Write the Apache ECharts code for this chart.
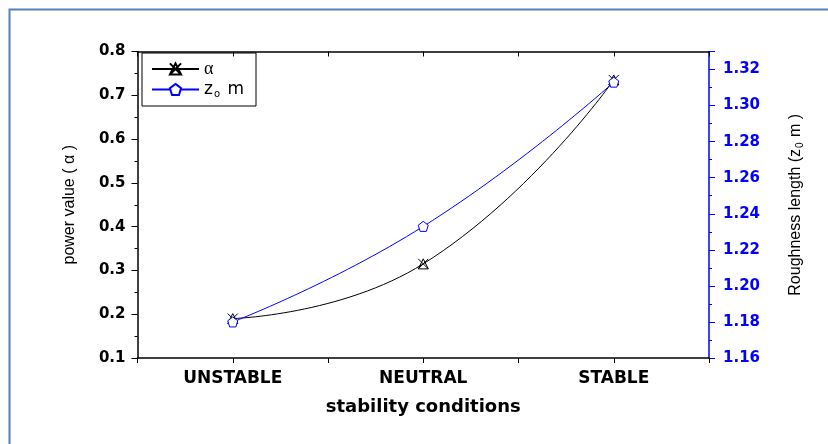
<!DOCTYPE html>
<html>
<head>
<meta charset="utf-8">
<script src="https://cdn.jsdelivr.net/npm/echarts@6/dist/echarts.min.js"></script>
<style>
  html, body { margin: 0; padding: 0; background: #fff; }
  #chart { width: 828px; height: 444px; }
</style>
</head>
<body>
<div id="chart"></div>
<script>
// Stability classes along the x axis
const categories = ['UNSTABLE', 'NEUTRAL', 'STABLE'];
// Power-law exponent (left axis)
const alphaValues = [0.19, 0.315, 0.735];
// Roughness length z0 in metres (right axis)
const z0Values = [1.18, 1.233, 1.313];
// Axis tick settings
const leftTicks = { min: 0.1, max: 0.8, interval: 0.1 };
const rightTicks = { min: 1.16, max: 1.33, interval: 0.02 };

const FONT = '"Liberation Sans", Arial, sans-serif';
const BOLD_FONT = '"DejaVu Sans", "Liberation Sans", Arial, sans-serif';
const BLUE = '#0000ff';

// cross drawn over a triangle outline
const crossTri = 'path://M0,0 L10,10 M10,0 L0,10 M5,0 L0,10 L10,10 Z';
// regular pentagon outline
const pentagon = 'path://M5,0 L10,3.8 L8.1,10 L1.9,10 L0,3.8 Z';

const toPoints = vals => vals.map((v, i) => [i + 1, v]);

const chart = echarts.init(document.getElementById('chart'));

chart.setOption({
  animation: false,
  backgroundColor: '#ffffff',
  graphic: [{
    type: 'rect',
    shape: { x: 9.5, y: 9.5, width: 900, height: 500 },
    style: { fill: 'none', stroke: '#4f81bd', lineWidth: 2 },
    silent: true
  }],
  grid: { left: 137.5, top: 51.5, right: 119, bottom: 86, containLabel: false },
  legend: {
    left: 142, top: 53,
    orient: 'vertical',
    borderColor: '#000', borderWidth: 1, borderRadius: 0,
    padding: [7, 12, 7, 9],
    itemGap: 3,
    itemWidth: 47, itemHeight: 14,
    data: ['alpha', 'z0'],
    formatter: name => name === 'alpha' ? '{a|α}' : '{z|z}{s|o}{z| m}',
    textStyle: {
      color: '#000',
      rich: {
        a: { fontFamily: '"Liberation Serif", "Times New Roman", serif', fontSize: 18, color: '#000' },
        z: { fontFamily: '"DejaVu Sans", sans-serif', fontSize: 17, color: '#000' },
        s: { fontFamily: '"DejaVu Sans", sans-serif', fontSize: 10, color: '#000', verticalAlign: 'bottom', padding: [9, 2, 0, 1] }
      }
    }
  },
  xAxis: [{
    type: 'value',
    position: 'bottom',
    min: 0.5, max: 3.5, interval: 0.5,
    name: 'stability conditions',
    nameLocation: 'middle',
    nameGap: 40,
    nameTextStyle: { fontFamily: BOLD_FONT, fontSize: 18, fontWeight: 'bold', color: '#000' },
    axisLine: { show: true, lineStyle: { color: '#000', width: 1.5 } },
    axisTick: { show: true, inside: false, length: 5, lineStyle: { color: '#000' } },
    splitLine: { show: false },
    axisLabel: {
      margin: 12,
      fontFamily: BOLD_FONT, fontSize: 17, fontWeight: 'bold', color: '#000',
      formatter: v => Number.isInteger(v) && categories[v - 1] ? categories[v - 1] : ''
    }
  }, {
    type: 'value',
    position: 'top',
    min: 0.5, max: 3.5, interval: 0.5,
    axisLine: { show: true, lineStyle: { color: '#000', width: 1.5 } },
    axisTick: { show: true, inside: true, length: 5, lineStyle: { color: '#000' } },
    axisLabel: { show: false },
    splitLine: { show: false }
  }],
  yAxis: [{
    type: 'value',
    position: 'left',
    min: leftTicks.min, max: leftTicks.max, interval: leftTicks.interval,
    name: 'power value ( α )',
    nameLocation: 'middle',
    nameRotate: 90,
    nameGap: 60,
    nameTextStyle: { fontFamily: FONT, fontSize: 16, color: '#000' },
    axisLine: { show: true, lineStyle: { color: '#000', width: 1.5 } },
    axisTick: { show: true, inside: false, length: 6, lineStyle: { color: '#000' } },
    minorTick: { show: true, splitNumber: 2, length: 3, lineStyle: { color: '#000' } },
    splitLine: { show: false },
    axisLabel: {
      margin: 12,
      fontFamily: BOLD_FONT, fontSize: 15, fontWeight: 'bold', color: '#000',
      formatter: v => v.toFixed(1)
    }
  }, {
    type: 'value',
    position: 'right',
    min: rightTicks.min, max: rightTicks.max, interval: rightTicks.interval,
    name: '{n|Roughness length (z}{s|0}{n| m )}',
    nameLocation: 'middle',
    nameRotate: 90,
    nameGap: 78,
    nameTextStyle: {
      color: '#000',
      rich: {
        n: { fontFamily: FONT, fontSize: 16, color: '#000' },
        s: { fontFamily: FONT, fontSize: 10, color: '#000', verticalAlign: 'bottom', padding: [8, 1, 0, 1] }
      }
    },
    axisLine: { show: true, lineStyle: { color: BLUE, width: 1.5 } },
    axisTick: { show: true, inside: false, length: 6, lineStyle: { color: BLUE } },
    minorTick: { show: true, splitNumber: 2, length: 3, lineStyle: { color: BLUE } },
    splitLine: { show: false },
    axisLabel: {
      margin: 14,
      showMaxLabel: false,
      fontFamily: BOLD_FONT, fontSize: 15, fontWeight: 'bold', color: BLUE,
      formatter: v => v.toFixed(2)
    }
  }],
  series: [{
    name: 'alpha',
    type: 'line',
    xAxisIndex: 0, yAxisIndex: 0,
    data: toPoints(alphaValues),
    smooth: 0.5,
    symbol: crossTri,
    symbolSize: 10,
    lineStyle: { color: '#000', width: 1 },
    itemStyle: { color: 'rgba(0,0,0,0)', borderColor: '#000', borderWidth: 1 },
    z: 3
  }, {
    name: 'z0',
    type: 'line',
    xAxisIndex: 0, yAxisIndex: 1,
    data: toPoints(z0Values),
    smooth: 0.5,
    symbol: pentagon,
    symbolSize: 10,
    lineStyle: { color: BLUE, width: 1 },
    itemStyle: { color: '#fff', borderColor: BLUE, borderWidth: 1 },
    z: 4
  }]
});
</script>
</body>
</html>
